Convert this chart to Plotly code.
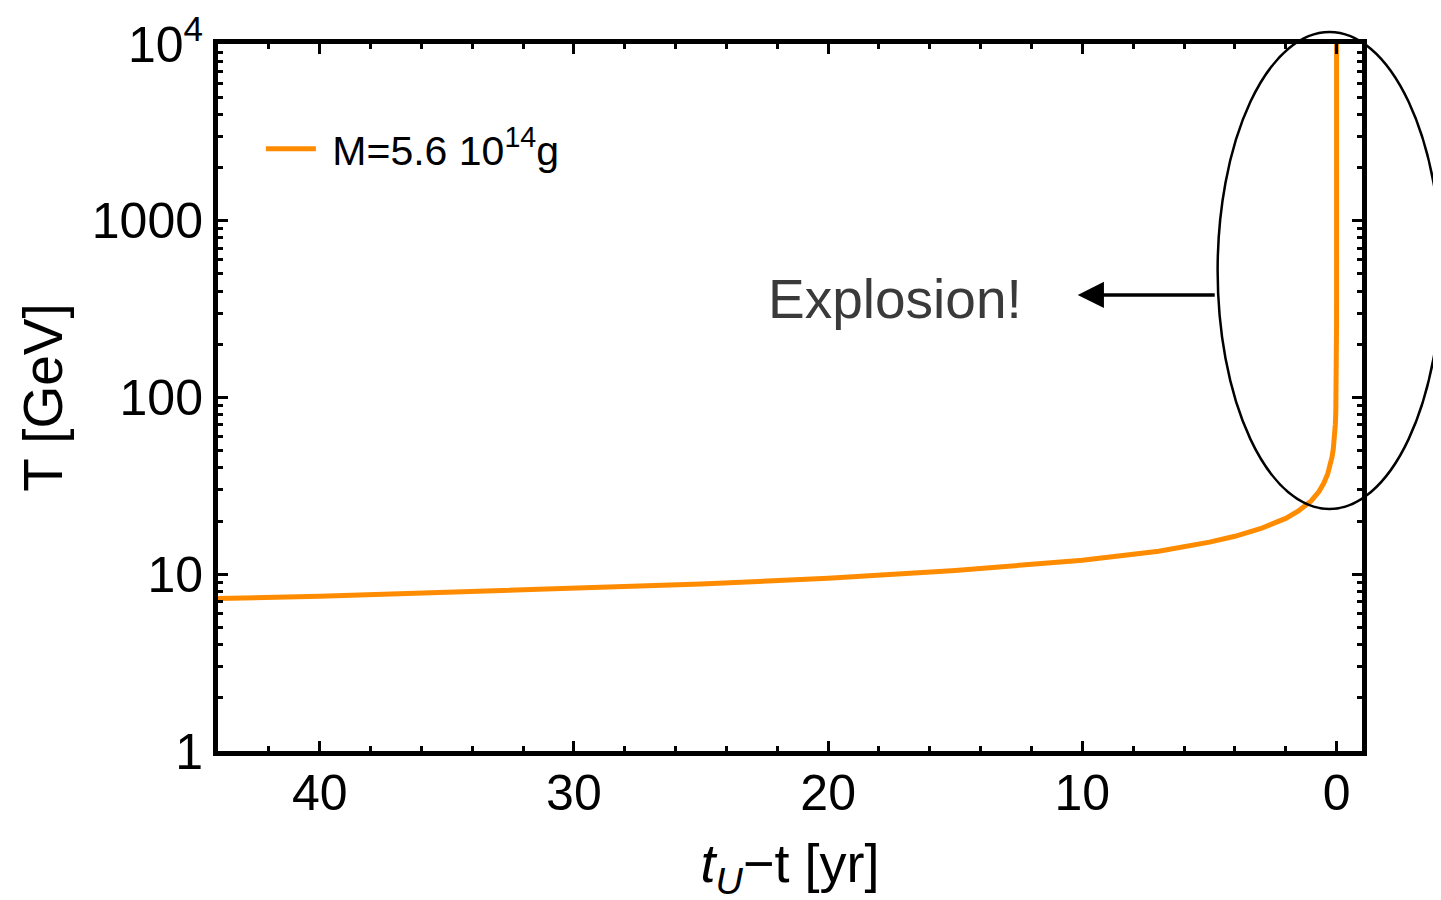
import plotly.graph_objects as go

# Data (time before explosion in years, temperature in GeV)
t_years = [44, 40, 35, 30, 25, 20, 15, 10, 7, 5, 4, 3, 2, 1.5, 1, 0.7, 0.5, 0.35,
           0.25, 0.18, 0.13, 0.1, 0.07, 0.05, 0.03, 0.02, 0.01, 0.003, 0.001, 0.0003,
           0.0001, 0.00002, 0.000005, 0.000001, 0.0000001, 0.00000001]
T_gev = [7.3, 7.5, 7.9, 8.3, 8.8, 9.5, 10.5, 12.0, 13.5, 15.2, 16.4, 18.1, 20.7,
         22.8, 26.0, 29.3, 32.8, 36.9, 41.3, 46, 51, 56, 63, 70, 83, 96, 120, 180,
         260, 390, 560, 960, 1520, 2600, 5600, 12000]

series_name = "\u00a0M=5.6 10<sup>14</sup>g"
x_ticks = [0, 10, 20, 30, 40]
y_ticks = [1, 10, 100, 1000, 10000]
y_ticktext = ["1", "10", "100", "1000", "10<sup>4</sup>"]

FONT = "Liberation Sans, Arial, Helvetica, sans-serif"
ORANGE = "#ff8c00"

fig = go.Figure()
fig.add_trace(go.Scatter(
    x=t_years, y=T_gev, mode="lines", name=series_name,
    line=dict(color=ORANGE, width=5),
    showlegend=True,
))

axis_common = dict(
    showline=True, linewidth=5, linecolor="black", mirror="ticks",
    ticks="inside", ticklen=10, tickwidth=3, tickcolor="black",
    showgrid=False, zeroline=False, automargin=False,
    tickfont=dict(family=FONT, size=50, color="black"),
)

fig.update_xaxes(
    **axis_common,
    range=[44, -1],
    tickvals=x_ticks,
    ticklabelstandoff=-6,
    minor=dict(ticks="inside", dtick=2, ticklen=5, tickwidth=3, tickcolor="black", showgrid=False),
    title=dict(text="<i>t</i><sub><i>U</i></sub>\u2212t [yr]", font=dict(family=FONT, size=54, color="black"), standoff=26),
)
fig.update_yaxes(
    **axis_common,
    type="log",
    range=[0, 4],
    tickvals=y_ticks,
    ticktext=y_ticktext,
    minor=dict(ticks="inside", dtick="D1", ticklen=5, tickwidth=3, tickcolor="black", showgrid=False),
    title=dict(text="T [GeV]", font=dict(family=FONT, size=55, color="black"), standoff=13),
)

fig.update_layout(
    width=1441, height=900,
    margin=dict(l=210, r=87, t=36, b=157),
    paper_bgcolor="white", plot_bgcolor="white",
    font=dict(family=FONT, color="black"),
    legend=dict(x=0.0375, y=0.8515, xanchor="left", yanchor="middle", itemwidth=50,
                bgcolor="rgba(0,0,0,0)", font=dict(family=FONT, size=41, color="black")),
    showlegend=True,
)

# Ellipse highlighting the explosion region
fig.add_shape(type="circle", xref="paper", yref="paper",
              x0=0.8738, x1=1.0694, y0=0.3423, y1=1.017,
              line=dict(color="black", width=2.5), layer="above")

# Arrow and label
fig.add_annotation(xref="paper", yref="paper", x=0.7515, y=0.645,
                   ax=140, ay=0, axref="pixel", ayref="pixel",
                   showarrow=True, arrowhead=2, arrowsize=1.5, arrowwidth=3.5,
                   arrowcolor="black", text=" ")
fig.add_annotation(xref="paper", yref="paper", x=0.5918, y=0.640,
                   text="Explosion!", showarrow=False,
                   font=dict(family=FONT, size=55, color="#3a3a3a"))

fig.write_html("out.html")
